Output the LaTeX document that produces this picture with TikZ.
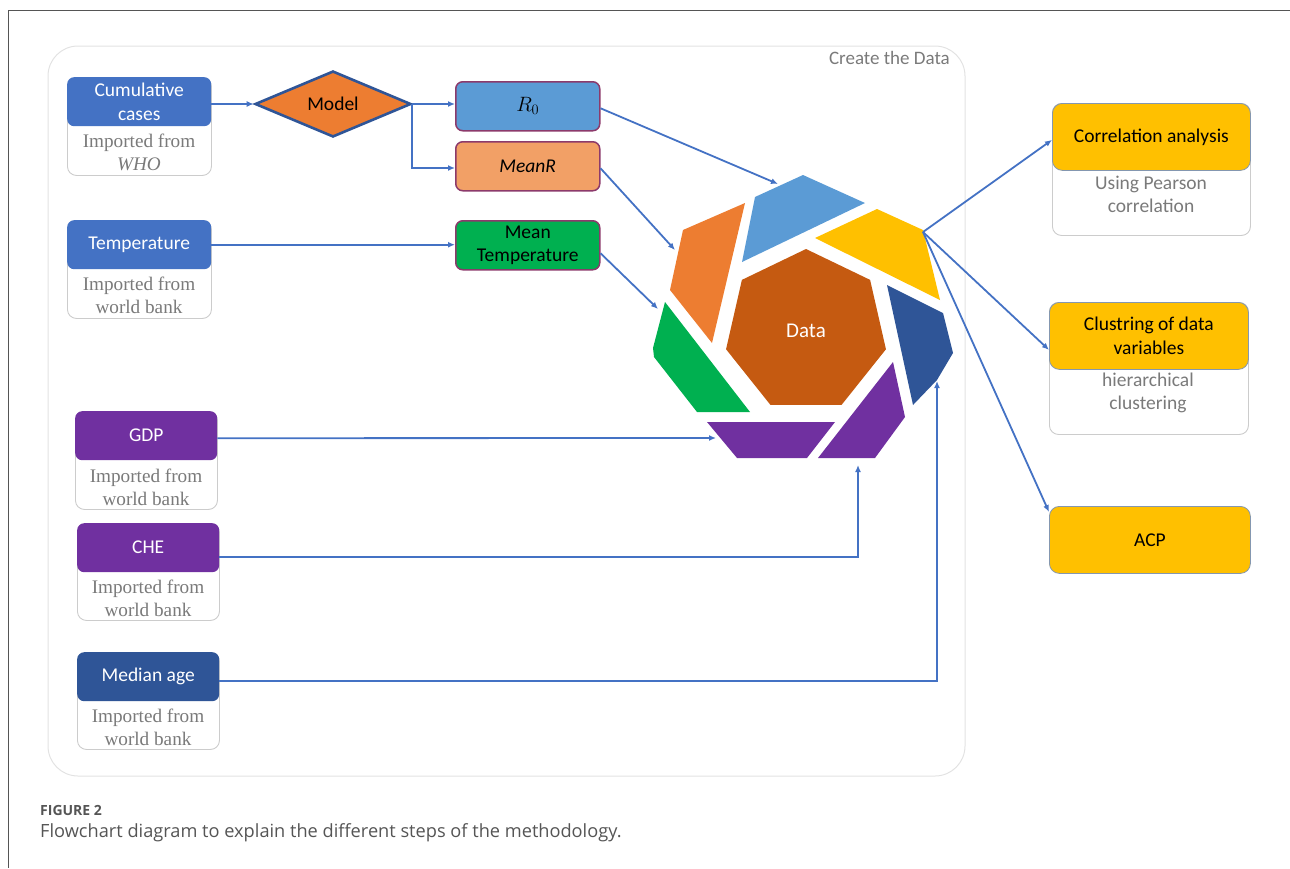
\documentclass[tikz,border=0pt]{standalone}
\usepackage{fontspec}
\setmainfont{Carlito}
\newfontfamily\serifimp{Liberation Serif}
\newfontfamily\capfont{Open Sans}
\usetikzlibrary{shapes.geometric,arrows.meta,calc}
\definecolor{hblue}{HTML}{4472C4}
\definecolor{dblue}{HTML}{2F5597}
\definecolor{purp}{HTML}{7030A0}
\definecolor{gold}{HTML}{FFC000}
\definecolor{orng}{HTML}{ED7D31}
\definecolor{lblue}{HTML}{5B9BD5}
\definecolor{lorng}{HTML}{F2A066}
\definecolor{grn}{HTML}{00B050}
\definecolor{rust}{HTML}{C55A11}
\definecolor{plum}{HTML}{8C3A6B}
\definecolor{ablue}{HTML}{4472C4}
\definecolor{subgray}{HTML}{CCCCCC}
\definecolor{txtgray}{HTML}{7A7A7A}
\definecolor{ybord}{HTML}{8497B0}
\definecolor{framegray}{HTML}{555555}
\definecolor{contgray}{HTML}{E2E2E2}
\tikzset{
  hdr/.style={rectangle, rounded corners=7pt, draw=none, text=white, font=\fontsize{19.5}{23.5}\selectfont, align=center, inner sep=0pt, anchor=north west},
  subbox/.style={rectangle, rounded corners=9pt, draw=subgray, line width=0.9pt, fill=white, inner sep=0pt, anchor=north west},
  subtxt/.style={font=\serifimp\fontsize{19.2}{23}\selectfont, text=txtgray, align=center, inner sep=0pt},
  subtxtsans/.style={font=\fontsize{19.5}{23.5}\selectfont, text=txtgray, align=center, inner sep=0pt},
  midbox/.style={rectangle, rounded corners=7pt, draw=plum, line width=1.5pt, font=\fontsize{19.5}{23.5}\selectfont, text=black, align=center, inner sep=0pt, anchor=north west, minimum width=144pt, minimum height=49pt},
  ybox/.style={rectangle, rounded corners=10pt, fill=gold, draw=ybord, line width=0.8pt, font=\fontsize{19.5}{23.5}\selectfont, text=black, align=center, inner sep=0pt, anchor=north west},
  arr/.style={draw=ablue, line width=1.8pt, -{Latex[length=7pt,width=6pt]}},
}
\begin{document}
\begin{tikzpicture}[x=1pt,y=-1pt]
\useasboundingbox (0,0) rectangle (1290,868);
% outer frame
\draw[framegray, line width=1pt] (1290,10) -- (8,10) -- (8,868);
% container
\draw[contgray, line width=1pt, rounded corners=30pt] (48,46) rectangle (965,776);
\node[anchor=east, font=\fontsize{19}{22}\selectfont, text=txtgray, inner sep=0pt] (ctitle) at (950,58) {Create the Data};

% Cumulative cases
\node[subbox, minimum width=144pt, minimum height=98pt] (cumsub) at (67,77) {};
\node[hdr, fill=hblue, minimum width=144pt, minimum height=49pt] (cum) at (67,77) {Cumulative\\cases};
\node[subtxt] (cumt) at (139,152.5) {Imported from\\\textit{WHO}};

% Temperature
\node[subbox, minimum width=144pt, minimum height=98pt] (tempsub) at (67,220) {};
\node[hdr, fill=hblue, minimum width=144pt, minimum height=49pt] (temp) at (67,220) {Temperature};
\node[subtxt] (tempt) at (139,295.5) {Imported from\\world bank};

% GDP
\node[subbox, minimum width=142pt, minimum height=98pt] (gdpsub) at (75,411) {};
\node[hdr, fill=purp, minimum width=142pt, minimum height=49pt] (gdp) at (75,411) {GDP};
\node[subtxt] (gdpt) at (146,487.5) {Imported from\\world bank};

% CHE
\node[subbox, minimum width=142pt, minimum height=97pt] (chesub) at (77,523) {};
\node[hdr, fill=purp, minimum width=142pt, minimum height=49pt] (che) at (77,523) {CHE};
\node[subtxt] (chet) at (148,598.5) {Imported from\\world bank};

% Median age
\node[subbox, minimum width=142pt, minimum height=97pt] (medsub) at (77,652) {};
\node[hdr, fill=dblue, minimum width=142pt, minimum height=49pt] (med) at (77,652) {Median age};
\node[subtxt] (medt) at (148,727.5) {Imported from\\world bank};

% Model
\node[diamond, aspect=2.36, minimum width=156pt, minimum height=66pt, inner sep=0pt, fill=orng, draw=dblue, line width=2.6pt, font=\fontsize{19.5}{22}\selectfont, text=black] (model) at (333,104) {Model};

% middle boxes
\node[midbox, fill=lblue] (r0) at (455,81) {$R_0$};
\node[midbox, fill=lorng] (meanr) at (455,141) {\itshape MeanR};
\node[midbox, fill=grn] (mtemp) at (455,220) {Mean\\Temperature};

% Data heptagon
\node[regular polygon, regular polygon sides=7, minimum size=164pt, inner sep=0pt, fill=rust, draw=none, text=white, font=\fontsize{21}{24}\selectfont] (data) at (806,331) {Data};

% segments around
\fill[lblue] (755,197) -- (803,175) -- (865,203) -- (742,262) -- cycle;
\fill[gold] (815,238) -- (877,209) -- (923,230) -- (940,300) -- cycle;
\fill[dblue] (887,285) -- (943,313) -- (953,353) -- (937,380) -- (913,405) -- cycle;
\fill[purp] (893,362) -- (905,417) -- (875,458) -- (818,458) -- cycle;
\fill[purp] (707,422) -- (835,422) -- (807,458) -- (737,458) -- cycle;
\fill[grn] (665,302) -- (750,412) -- (697,412) -- (654,357) -- (653,348) -- cycle;
\fill[orng] (683,230) -- (745,203) -- (712,343) -- (670,290) -- cycle;

\coordinate (sb) at (778,184);
\coordinate (so) at (675,250);
\coordinate (sg) at (658,309);
\coordinate (spb) at (716,438);
\coordinate (spr) at (858,465);
\coordinate (sdb) at (937,381);
\coordinate (sy) at (923,232);

% right boxes
\node[subbox, minimum width=198pt, minimum height=132pt] (corrsub) at (1052,103) {};
\node[ybox, minimum width=198pt, minimum height=67pt] (corr) at (1052,103) {Correlation analysis};
\node[subtxtsans] (corrt) at (1151,194.5) {Using Pearson\\correlation};

\node[subbox, minimum width=199pt, minimum height=132pt] (clussub) at (1049,302) {};
\node[ybox, minimum width=199pt, minimum height=67pt] (clus) at (1049,302) {Clustring of data\\variables};
\node[subtxtsans] (clust) at (1148,393) {hierarchical\\clustering};

\node[ybox, minimum width=201pt, minimum height=67pt] (acp) at (1049,506) {ACP};

% connectors
\draw[arr] (cum.east |- model.west) -- (model.west);
\draw[arr] (model.east) -- (model.east -| r0.west);
\draw[arr] (model.east) -- ++(0,64) -- (meanr.west |- 0,168);
\draw[arr] (temp.east) -- (temp.east -| mtemp.west);
\draw[arr] ($(r0.east)+(0,2)$) -- (sb);
\draw[arr] ($(meanr.east)+(0,2)$) -- (so);
\draw[arr] ($(mtemp.east)+(0,8)$) -- (sg);
\draw[arr] ($(gdp.east)+(0,2.5)$) -- (spb);
\draw[arr] ($(che.east)+(0,9.5)$) -| (spr);
\draw[arr] ($(med.east)+(0,4)$) -| (sdb);
\draw[arr] (sy) -- ($(corr.west)+(0,3)$);
\draw[arr] (sy) -- ($(clus.west)+(0,14)$);
\draw[arr] (sy) -- ($(acp.north west)+(0,6)$);

% caption
\node[anchor=west, inner sep=0pt, font=\capfont\bfseries\fontsize{14}{17}\selectfont, text=framegray] (figlab) at (40,810) {FIGURE 2};
\node[anchor=west, inner sep=0pt, font=\capfont\fontsize{18.2}{21}\selectfont, text=framegray] (caption) at (40,833) {Flowchart diagram to explain the different steps of the methodology.};
\end{tikzpicture}
\end{document}
